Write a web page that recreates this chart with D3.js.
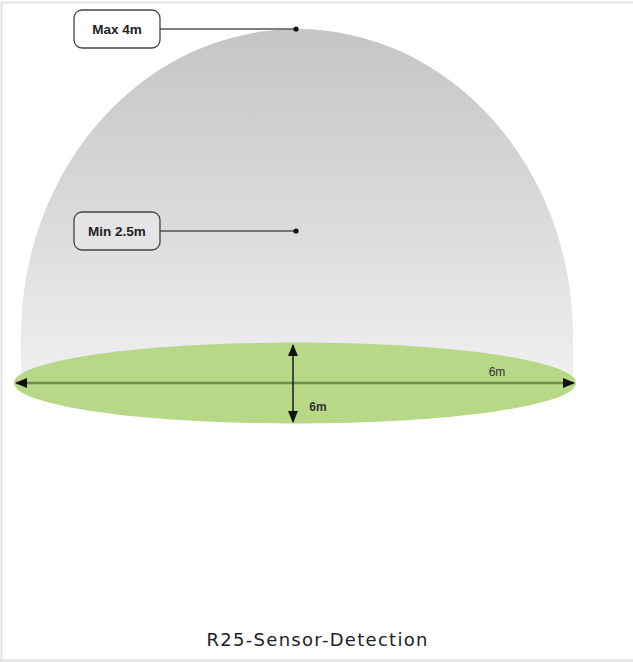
<!DOCTYPE html>
<html lang="en">
<head>
   <meta charset="utf-8">
   <title>R25 Sensor Detection</title>
   <script src="https://cdn.jsdelivr.net/npm/d3@7"></script>
   <style type="text/css">
      body { margin: 0; background: #fff; }
      .callout text { font-family: "Liberation Sans", Arial, sans-serif; font-weight: bold; font-size: 13.5px; fill: #222; }
   </style>
</head>
<body>
   <script type="text/javascript">

      var w = 633;
      var h = 662;

      // detection heights (m) and labels
      var heightLabels = ["Max 4m", "Min 2.5m"];
      var heightValues = [4, 2.5];

      // detection footprint (m), centred on sensor
      var spanMin = -3;
      var spanMax = 3;
      var widthLabel = "6m";
      var depthLabel = "6m";
      var caption = "R25-Sensor-Detection";

      var xScale = d3.scaleLinear()
                     .domain([spanMin, spanMax])
                     .range([16, 574]);

      var yScale = d3.scaleLinear()
                     .domain([2.5, 4])
                     .range([231, 29]);

      // depth of ground ellipse, drawn in perspective
      var zScale = d3.scaleLinear()
                     .domain([spanMin, spanMax])
                     .range([422, 345]);

      var groundY = 383;
      var cx = xScale(0);

      var svg = d3.select("body")
                  .append("svg")
                  .attr("width", w)
                  .attr("height", h);

      var defs = svg.append("defs");
      var grad = defs.append("linearGradient")
                     .attr("id", "dome")
                     .attr("x1", 0).attr("y1", 0)
                     .attr("x2", 0).attr("y2", 1);
      grad.append("stop").attr("offset", "0%").attr("stop-color", "#c6c5c6");
      grad.append("stop").attr("offset", "55%").attr("stop-color", "#dcdbdc");
      grad.append("stop").attr("offset", "100%").attr("stop-color", "#f0eff2");

      defs.append("marker")
          .attr("id", "arrowK")
          .attr("viewBox", "0 0 12 10")
          .attr("refX", 11).attr("refY", 5)
          .attr("markerUnits", "userSpaceOnUse")
          .attr("markerWidth", 12).attr("markerHeight", 10)
          .attr("orient", "auto-start-reverse")
          .append("path")
          .attr("d", "M0,0 L12,5 L0,10 z")
          .attr("fill", "#111");

      // frame
      svg.append("path")
         .attr("d", "M1.5," + (h - 1) + " V2.5 H" + w)
         .attr("fill", "none")
         .attr("stroke", "#e2e2e2")
         .attr("stroke-width", 2);
      svg.append("line")
         .attr("x1", 0).attr("x2", w)
         .attr("y1", h - 1.5).attr("y2", h - 1.5)
         .attr("stroke", "#dcdcdc")
         .attr("stroke-width", 2);

      // detection dome
      var rx = 276;
      var domeTop = 29;
      var domeCy = 336;
      var ry = domeCy - domeTop;
      var dcx = cx + 2;
      svg.append("path")
         .attr("d", "M" + (dcx - rx) + "," + groundY +
                    " V" + domeCy +
                    " A" + rx + "," + ry + " 0 0 1 " + (dcx + rx) + "," + domeCy +
                    " V" + groundY + " Z")
         .attr("fill", "url(#dome)");

      // ground ellipse
      svg.append("ellipse")
         .attr("cx", cx)
         .attr("cy", groundY)
         .attr("rx", (xScale(spanMax) - xScale(spanMin)) / 2 + 2)
         .attr("ry", (zScale(spanMin) - zScale(spanMax)) / 2 + 2)
         .attr("fill", "#b6d887");

      // width arrow
      svg.append("line")
         .attr("x1", xScale(spanMin)).attr("x2", xScale(spanMax))
         .attr("y1", groundY).attr("y2", groundY)
         .attr("stroke", "#6c8f48")
         .attr("stroke-width", 2.5)
         .attr("marker-start", "url(#arrowK)")
         .attr("marker-end", "url(#arrowK)");

      // depth arrow
      svg.append("line")
         .attr("x1", cx - 2).attr("x2", cx - 2)
         .attr("y1", zScale(spanMax)).attr("y2", zScale(spanMin))
         .attr("stroke", "#222")
         .attr("stroke-width", 1.6)
         .attr("marker-start", "url(#arrowK)")
         .attr("marker-end", "url(#arrowK)");

      svg.append("text")
         .attr("x", 497).attr("y", 376)
         .attr("text-anchor", "middle")
         .style("font-family", "Liberation Sans, Arial, sans-serif")
         .style("font-size", "12px")
         .style("fill", "#333")
         .text(widthLabel);
      svg.append("text")
         .attr("x", 318).attr("y", 411)
         .attr("text-anchor", "middle")
         .style("font-family", "Liberation Sans, Arial, sans-serif")
         .style("font-size", "12px")
         .style("font-weight", "bold")
         .style("fill", "#333")
         .text(depthLabel);

      // height callouts
      var callouts = svg.selectAll("g.callout")
                        .data(heightValues)
                        .enter()
                        .append("g")
                        .attr("class", "callout")
                        .attr("transform", function(d) { return "translate(0," + yScale(d) + ")"; });

      callouts.append("line")
              .attr("x1", 160).attr("x2", cx + 1)
              .attr("y1", 0).attr("y2", 0)
              .attr("stroke", "#555")
              .attr("stroke-width", 1.6);
      callouts.append("circle")
              .attr("cx", cx + 1).attr("cy", 0)
              .attr("r", 2.6)
              .attr("fill", "#111");
      callouts.append("rect")
              .attr("x", 74).attr("y", -19)
              .attr("width", 86).attr("height", 38)
              .attr("rx", 8)
              .attr("fill", function(d, i) { return i === 0 ? "#fff" : "#e4e3e5"; })
              .attr("stroke", "#444")
              .attr("stroke-width", 1.3);
      callouts.append("text")
              .attr("x", 117).attr("y", 5)
              .attr("text-anchor", "middle")
              .text(function(d, i) { return heightLabels[i]; });

      // caption
      svg.append("text")
         .attr("x", 317).attr("y", 646)
         .attr("text-anchor", "middle")
         .attr("textLength", 221)
         .attr("lengthAdjust", "spacing")
         .style("font-family", "DejaVu Sans, sans-serif")
         .style("font-size", "18px")
         .style("fill", "#222")
         .text(caption);

   </script>
</body>
</html>
